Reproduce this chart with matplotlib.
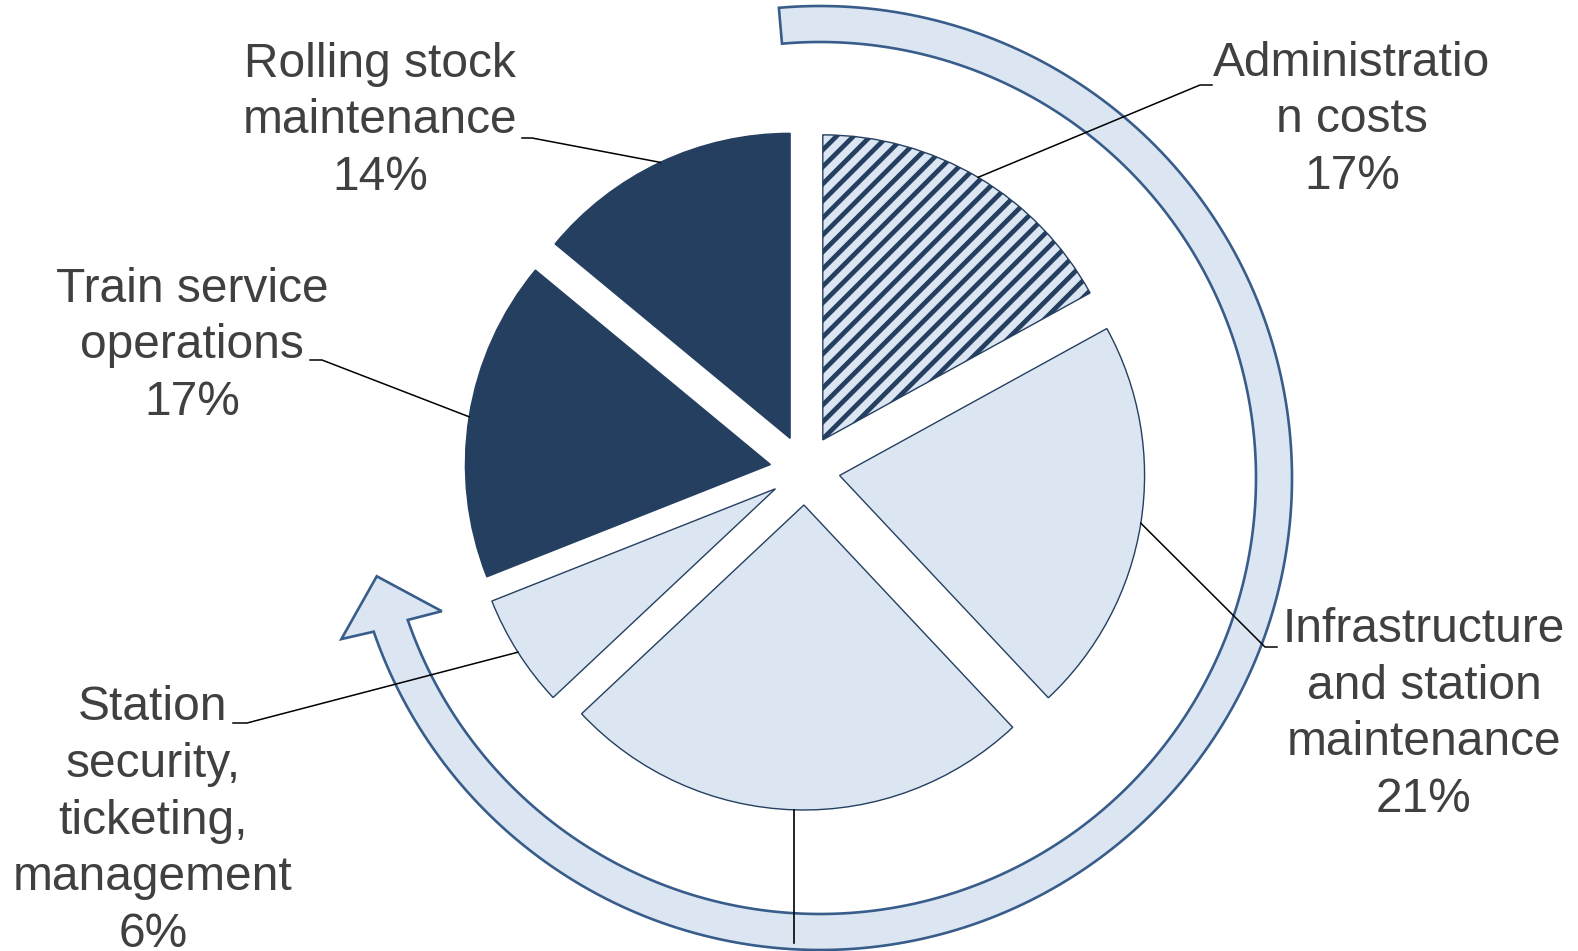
import numpy as np
import matplotlib.pyplot as plt
from matplotlib.patches import Polygon

# cost shares, clockwise from 12 o'clock
categories = ['Administratio\nn costs',
              'Infrastructure\nand station\nmaintenance',
              '',
              'Station\nsecurity,\nticketing,\nmanagement',
              'Train service\noperations',
              'Rolling stock\nmaintenance']
shares = [17, 21, 25, 6, 17, 14]

DARK = '#243F60'
LIGHT = '#DCE6F2'
slice_colors = [LIGHT, LIGHT, LIGHT, LIGHT, DARK, DARK]
striped = [True, False, False, False, False, False]

# label anchor (centre x, last baseline y) and leader elbow / end, in pixels
label_pos = [(1352, 189), (1424, 812), None, (153, 947), (192, 415), (380, 190)]
leader_elbow = [(1200, 85), (1265, 647), None, (247, 723), (322, 360), (532, 138)]
leader_end = [(1212, 85), (1277, 647), None, (233, 723), (310, 360), (522, 138)]

plt.rcParams['font.family'] = ['Liberation Sans', 'DejaVu Sans']

fig = plt.figure(figsize=(15.78, 9.51), dpi=100)
ax = fig.add_axes([0, 0, 1, 1])

# y axis runs downwards, so counterclockwise in data is clockwise on screen
wedges, _ = ax.pie(shares, radius=305, center=(805, 470), explode=[35] * len(shares),
                   startangle=-90, counterclock=True, colors=slice_colors,
                   wedgeprops=dict(edgecolor=DARK, linewidth=1.0))
ax.set_xlim(0, 1578)
ax.set_ylim(951, 0)
ax.set_aspect('equal')
ax.axis('off')

# diagonal stripes clipped to the striped wedges
for w, s in zip(wedges, striped):
    if not s:
        continue
    cx, cy = w.center
    xs = np.array([cx - 400, cx + 400])
    for c in np.arange(-800, 800, 17):
        ln, = ax.plot(xs, cy + c - (xs - cx), color=DARK, lw=3.4,
                      solid_capstyle='butt', zorder=1.5)
        ln.set_clip_path(w)
    w.set_zorder(1)

# curved arrow running clockwise round the pie
arc_c = (820, 478)


def arc_xy(r, phi):
    p = np.radians(phi)
    return arc_c[0] + r * np.sin(p), arc_c[1] - r * np.cos(p)


pts = [arc_xy(472, a) for a in np.linspace(-5, 251, 240)]
pts += [arc_xy(505, 251.4), arc_xy(454, 257.5), arc_xy(401, 250.6)]
pts += [arc_xy(436, a) for a in np.linspace(251, -5, 240)]
ax.add_patch(Polygon(pts, closed=True, facecolor=LIGHT, edgecolor='#385D8A',
                     linewidth=1.9, zorder=0.5))

# leader lines and labels
for w, name, share, pos, elbow, end in zip(wedges, categories, shares,
                                           label_pos, leader_elbow, leader_end):
    tm = np.radians((w.theta1 + w.theta2) / 2)
    x0 = w.center[0] + w.r * np.cos(tm)
    y0 = w.center[1] + w.r * np.sin(tm)
    if pos is None:
        ax.plot([x0, x0], [y0, 943], color='black', lw=1.2, zorder=3)
        continue
    ax.plot([x0, elbow[0], end[0]], [y0, elbow[1], end[1]], color='black',
            lw=1.1, zorder=3)
    ax.text(pos[0], pos[1], f'{name}\n{share}%', ha='center', va='baseline',
            multialignment='center', fontsize=34.5, color='#404040',
            linespacing=1.335, zorder=4)

fig.savefig('out.png', dpi=100)
